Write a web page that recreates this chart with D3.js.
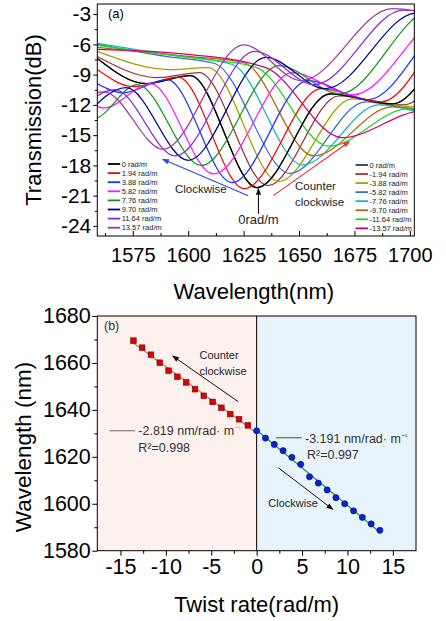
<!DOCTYPE html>
<html>
<head>
<meta charset="utf-8">
<script src="https://cdn.jsdelivr.net/npm/d3@7"></script>
<style>
body { margin: 0; background: #fff; }
svg { display: block; font-family: "Liberation Sans", Arial, sans-serif; }
</style>
</head>
<body>
<div id="chart"></div>
<script>
// ---- panel (a): transmission spectra, [wavelength nm, dB] ----
var cwLabels  = ["0 rad/m", "1.94 rad/m", "3.88 rad/m", "5.82 rad/m", "7.76 rad/m", "9.70 rad/m", "11.64 rad/m", "13.57 rad/m"];
var ccwLabels = ["0 rad/m", "-1.94 rad/m", "-3.88 rad/m", "-5.82 rad/m", "-7.76 rad/m", "-9.70 rad/m", "-11.64 rad/m", "-13.57 rad/m"];
var cwColors  = ["#000000", "#ff0000", "#1a32ff", "#ff1aff", "#14961e", "#00008c", "#8a2be2", "#9c3c9c"];
var ccwColors = ["#3c3c3c", "#9e3232", "#a3a000", "#3a6fc4", "#16b4b4", "#b06810", "#22d422", "#d0007a"];

var cw0    = [[1559,-7.4],[1581,-9.9],[1601,-9.1],[1631.1,-20.2],[1664,-10.9],[1692,-11.9],[1732,-2.5],[1780,-6]];
var cw194  = [[1559,-8.5],[1575.5,-10.2],[1595.5,-9.25],[1625.3,-20.3],[1660,-10.4],[1687,-11.7],[1727,-2.5],[1775,-6]];
var cw388  = [[1559,-9.9],[1570.5,-10.8],[1590.5,-9.5],[1619.8,-19.7],[1654,-9.6],[1681,-11.5],[1724,-2.5],[1772,-6]];
var cw582  = [[1545,-9],[1562,-12.3],[1583,-9.9],[1611.5,-18.85],[1647,-8.8],[1674.5,-11.0],[1719,-2.6],[1767,-6]];
var cw776  = [[1540,-9],[1557,-13.4],[1577,-10.0],[1605.9,-18.0],[1641,-8.1],[1668.5,-10.9],[1710,-2.6],[1758,-6]];
var cw970  = [[1552,-13.5],[1572,-10.3],[1600,-17.5],[1635,-7.3],[1662,-10.4],[1703,-2.9],[1751,-6]];
var cw1164 = [[1547,-13.5],[1567,-10.5],[1594.2,-17.06],[1630,-6.7],[1657,-10.0],[1697,-2.6],[1745,-6]];
var cw1357 = [[1542,-13.5],[1562,-10.7],[1588.7,-16.4],[1625,-6.06],[1651,-9.6],[1692,-2.45],[1740,-6]];

var ccw194  = [[1559,-7.2],[1586,-9.3],[1605,-8.8],[1636,-20.0],[1668,-11.1],[1697,-12.0],[1737,-3],[1785,-6]];
var ccw388  = [[1559,-6.7],[1592,-8.5],[1609,-8.3],[1640.9,-19.6],[1674,-11.4],[1703,-12.2],[1743,-3]];
var ccw582  = [[1559,-6.0],[1590,-7.2],[1612,-7.9],[1646,-18.8],[1680,-11.7],[1708,-12.6],[1750,-3]];
var ccw776  = [[1559,-5.9],[1590,-7.0],[1620,-8.0],[1651.7,-17.96],[1686,-12.0],[1714,-13.0],[1755,-3]];
var ccw970  = [[1559,-6.3],[1600,-7.2],[1625,-7.8],[1656.7,-17.06],[1692,-12.2],[1720,-13.2]];
var ccw1164 = [[1559,-6.1],[1600,-7.3],[1630,-8.2],[1663.5,-16.1],[1699,-12.4],[1727,-13.4]];
var ccw1357 = [[1559,-6.5],[1600,-7.0],[1635,-8.3],[1669.5,-15.25],[1706,-12.6],[1735,-13.6]];

var cwSpectra  = [cw0, cw194, cw388, cw582, cw776, cw970, cw1164, cw1357];
var ccwSpectra = [cw0, ccw194, ccw388, ccw582, ccw776, ccw970, ccw1164, ccw1357];

var wlTicks = [1575, 1600, 1625, 1650, 1675, 1700];
var wlMinor = [1562.5, 1587.5, 1612.5, 1637.5, 1662.5, 1687.5];
var dbTicks = [-3, -6, -9, -12, -15, -18, -21, -24];
var dbMinor = [-4.5, -7.5, -10.5, -13.5, -16.5, -19.5, -22.5];

// ---- panel (b): dip wavelength vs twist rate ----
var ccwRates = [-13.57,-12.61,-11.64,-10.67,-9.70,-8.73,-7.76,-6.79,-5.82,-4.85,-3.88,-2.91,-1.94,-0.97];
var ccwDips  = [1669.5,1666.5,1663.5,1660.1,1656.7,1654.1,1651.7,1648.8,1646.0,1643.4,1640.9,1638.2,1636.0,1633.4];
var cwRates  = [0,0.97,1.94,2.91,3.88,4.85,5.82,6.79,7.76,8.73,9.70,10.67,11.64,12.61,13.57];
var cwDips   = [1631.1,1628.0,1625.3,1622.6,1619.8,1616.8,1611.5,1608.8,1605.9,1602.6,1600.0,1597.0,1594.2,1591.4,1588.7];

var rateTicks = [-15, -10, -5, 0, 5, 10, 15];
var rateMinor = [-12.5, -7.5, -2.5, 2.5, 7.5, 12.5];
var dipTicks  = [1580, 1600, 1620, 1640, 1660, 1680];
var dipMinor  = [1590, 1610, 1630, 1650, 1670];

var W = 446, H = 621;
var svg = d3.select("#chart").append("svg").attr("width", W).attr("height", H);

var defs = svg.append("defs");
function arrowMarker(id, color) {
    defs.append("marker")
        .attr("id", id)
        .attr("viewBox", "0 -4 8 8")
        .attr("refX", 7).attr("refY", 0)
        .attr("markerUnits", "userSpaceOnUse")
        .attr("markerWidth", 8).attr("markerHeight", 7)
        .attr("orient", "auto")
      .append("path")
        .attr("d", "M0,-3L8,0L0,3Z")
        .attr("fill", color);
}
arrowMarker("ahBlue", "#2f44e6");
arrowMarker("ahRed", "#f03030");
arrowMarker("ahBlack", "#111");

function styleAxis(g, size) {
    g.select(".domain").remove();
    g.selectAll("line").attr("stroke", "#000");
    g.selectAll("text").attr("font-size", size).attr("fill", "#000")
        .attr("font-family", "'Liberation Sans', Arial, sans-serif");
}

// ================= panel (a) =================
var pa = {left: 97.3, right: 414.3, top: 4, bottom: 236};
var xA = d3.scaleLinear().domain([1559, 1702]).range([pa.left, pa.right]);
var yA = d3.scaleLinear().domain([-25, -2]).range([pa.bottom, pa.top]);

defs.append("clipPath").attr("id", "clipA").append("rect")
    .attr("x", pa.left).attr("y", pa.top)
    .attr("width", pa.right - pa.left).attr("height", pa.bottom - pa.top);

var lineA = d3.line()
    .x(function(d) { return xA(d[0]); })
    .y(function(d) { return yA(d[1]); })
    .curve(d3.curveMonotoneX);

var curves = svg.append("g").attr("clip-path", "url(#clipA)");
ccwSpectra.forEach(function(s, i) {
    curves.append("path").attr("d", lineA(s)).attr("fill", "none")
        .attr("stroke", ccwColors[i]).attr("stroke-width", 1.25);
});
cwSpectra.forEach(function(s, i) {
    curves.append("path").attr("d", lineA(s)).attr("fill", "none")
        .attr("stroke", cwColors[i]).attr("stroke-width", 1.25);
});

// axes
var gxA = svg.append("g").attr("transform", "translate(0," + pa.bottom + ")")
    .call(d3.axisBottom(xA).tickValues(wlTicks).tickSizeInner(-5).tickSizeOuter(0).tickPadding(12).tickFormat(String));
styleAxis(gxA, 20);
var gxAm = svg.append("g").attr("transform", "translate(0," + pa.bottom + ")")
    .call(d3.axisBottom(xA).tickValues(wlMinor).tickSizeInner(-3).tickSizeOuter(0).tickFormat(""));
styleAxis(gxAm, 0);
var gyA = svg.append("g").attr("transform", "translate(" + pa.left + ",0)")
    .call(d3.axisLeft(yA).tickValues(dbTicks).tickSize(4).tickPadding(2).tickFormat(String));
styleAxis(gyA, 21);
var gyAm = svg.append("g").attr("transform", "translate(" + pa.left + ",0)")
    .call(d3.axisLeft(yA).tickValues(dbMinor).tickSize(2.5).tickFormat(""));
styleAxis(gyAm, 0);

svg.append("rect").attr("x", pa.left).attr("y", pa.top)
    .attr("width", pa.right - pa.left).attr("height", pa.bottom - pa.top)
    .attr("fill", "none").attr("stroke", "#000").attr("stroke-width", 1);

svg.append("text").attr("transform", "translate(40.5,120) rotate(-90)")
    .attr("text-anchor", "middle").attr("font-size", 22).text("Transmission(dB)");
svg.append("text").attr("x", (pa.left + pa.right) / 2 - 2).attr("y", 299)
    .attr("text-anchor", "middle").attr("font-size", 22).text("Wavelength(nm)");

svg.append("text").attr("x", 108).attr("y", 18).attr("font-size", 13).text("(a)");

// legends
function legend(x0, y0, step, labels, colors) {
    var g = svg.append("g");
    labels.forEach(function(l, i) {
        var y = y0 + i * step;
        g.append("line").attr("x1", x0).attr("x2", x0 + 12.5).attr("y1", y).attr("y2", y)
            .attr("stroke", colors[i]).attr("stroke-width", 1.8);
        g.append("text").attr("x", x0 + 14).attr("y", y).attr("dy", "0.35em")
            .attr("font-size", 7.5).attr("fill", "#222").text(l);
    });
}
legend(107.7, 164, 9.1, cwLabels, cwColors);
legend(355.5, 165, 9.05, ccwLabels, ccwColors);

// annotations (a)
svg.append("line").attr("x1", xA(1627.1)).attr("y1", yA(-21.0))
    .attr("x2", xA(1588.5)).attr("y2", yA(-17.4))
    .attr("stroke", "#2f44e6").attr("stroke-width", 1.1).attr("marker-end", "url(#ahBlue)");
svg.append("line").attr("x1", xA(1638.4)).attr("y1", yA(-21.0))
    .attr("x2", xA(1672.7)).attr("y2", yA(-15.65))
    .attr("stroke", "#f03030").attr("stroke-width", 1.1).attr("marker-end", "url(#ahRed)");
svg.append("line").attr("x1", xA(1631.7)).attr("y1", yA(-22.8))
    .attr("x2", xA(1631.7)).attr("y2", yA(-20.3))
    .attr("stroke", "#111").attr("stroke-width", 1.1).attr("marker-end", "url(#ahBlack)");
svg.append("text").attr("x", 175).attr("y", 193).attr("font-size", 11.5).attr("fill", "#222").text("Clockwise");
svg.append("text").attr("x", 295).attr("y", 190).attr("font-size", 11.5).attr("fill", "#222").text("Counter");
svg.append("text").attr("x", 295).attr("y", 205.5).attr("font-size", 11.5).attr("fill", "#222").text("clockwise");
svg.append("text").attr("x", xA(1631.7)).attr("y", 223.5).attr("text-anchor", "middle")
    .attr("font-size", 13).attr("fill", "#222").text("0rad/m");

// ================= panel (b) =================
var pb = {left: 97.3, right: 416, top: 316, bottom: 550.7};
var xB = d3.scaleLinear().domain([-17.55, 17.55]).range([pb.left, pb.right]);
var yB = d3.scaleLinear().domain([1580, 1680]).range([pb.bottom, pb.top]);

svg.append("rect").attr("x", pb.left).attr("y", pb.top)
    .attr("width", xB(0) - pb.left).attr("height", pb.bottom - pb.top).attr("fill", "#fcf1ed");
svg.append("rect").attr("x", xB(0)).attr("y", pb.top)
    .attr("width", pb.right - xB(0)).attr("height", pb.bottom - pb.top).attr("fill", "#e8f3fb");
svg.append("line").attr("x1", xB(0)).attr("x2", xB(0)).attr("y1", pb.top).attr("y2", pb.bottom)
    .attr("stroke", "#000").attr("stroke-width", 1);

function linfit(xs, ys) {
    var mx = d3.mean(xs), my = d3.mean(ys);
    var b = d3.sum(xs, function(x, i) { return (x - mx) * (ys[i] - my); }) /
            d3.sum(xs, function(x) { return (x - mx) * (x - mx); });
    return {b: b, a: my - b * mx};
}
var fitCCW = linfit(ccwRates.concat([cwRates[0]]), ccwDips.concat([cwDips[0]]));
var fitCW = linfit(cwRates, cwDips);

svg.append("line")
    .attr("x1", xB(ccwRates[0])).attr("y1", yB(fitCCW.a + fitCCW.b * ccwRates[0]))
    .attr("x2", xB(0)).attr("y2", yB(fitCCW.a))
    .attr("stroke", "#8a8a8a").attr("stroke-width", 1.3);
svg.append("line")
    .attr("x1", xB(0)).attr("y1", yB(fitCW.a))
    .attr("x2", xB(cwRates[cwRates.length - 1])).attr("y2", yB(fitCW.a + fitCW.b * cwRates[cwRates.length - 1]))
    .attr("stroke", "#2e9e2e").attr("stroke-width", 1.3);

svg.append("g").selectAll("rect").data(ccwRates).enter().append("rect")
    .attr("x", function(d) { return xB(d) - 2.8; })
    .attr("y", function(d, i) { return yB(ccwDips[i]) - 2.8; })
    .attr("width", 5.6).attr("height", 5.6)
    .attr("fill", "#e00000").attr("stroke", "#7a0000").attr("stroke-width", 0.6);
svg.append("g").selectAll("circle").data(cwRates).enter().append("circle")
    .attr("cx", function(d) { return xB(d); })
    .attr("cy", function(d, i) { return yB(cwDips[i]); })
    .attr("r", 3.1)
    .attr("fill", "#0a22d6").attr("stroke", "#00106e").attr("stroke-width", 0.6);

var gxB = svg.append("g").attr("transform", "translate(0," + pb.bottom + ")")
    .call(d3.axisBottom(xB).tickValues(rateTicks).tickSize(5).tickPadding(3.5).tickFormat(String));
styleAxis(gxB, 21.5);
var gxBm = svg.append("g").attr("transform", "translate(0," + pb.bottom + ")")
    .call(d3.axisBottom(xB).tickValues(rateMinor).tickSize(3).tickFormat(""));
styleAxis(gxBm, 0);
var gyB = svg.append("g").attr("transform", "translate(" + pb.left + ",0)")
    .call(d3.axisLeft(yB).tickValues(dipTicks).tickSize(5).tickPadding(1.5).tickFormat(String));
styleAxis(gyB, 21.5);
var gyBm = svg.append("g").attr("transform", "translate(" + pb.left + ",0)")
    .call(d3.axisLeft(yB).tickValues(dipMinor).tickSize(3).tickFormat(""));
styleAxis(gyBm, 0);

svg.append("rect").attr("x", pb.left).attr("y", pb.top)
    .attr("width", pb.right - pb.left).attr("height", pb.bottom - pb.top)
    .attr("fill", "none").attr("stroke", "#000").attr("stroke-width", 1);

svg.append("text").attr("transform", "translate(30.5,447) rotate(-90)")
    .attr("text-anchor", "middle").attr("font-size", 22.5).text("Wavelength (nm)");
svg.append("text").attr("x", xB(0)).attr("y", 611.5)
    .attr("text-anchor", "middle").attr("font-size", 22).text("Twist rate(rad/m)");

svg.append("text").attr("x", 104).attr("y", 330).attr("font-size", 12.5).attr("fill", "#333").text("(b)");

// annotations (b)
svg.append("line").attr("x1", 238.3).attr("y1", 401.7).attr("x2", 172.7).attr("y2", 356)
    .attr("stroke", "#111").attr("stroke-width", 1).attr("marker-end", "url(#ahBlack)");
svg.append("text").attr("x", 199.5).attr("y", 358.5).attr("font-size", 11).attr("fill", "#222").text("Counter");
svg.append("text").attr("x", 199.5).attr("y", 374.5).attr("font-size", 11).attr("fill", "#222").text("clockwise");

svg.append("line").attr("x1", 278.3).attr("y1", 467.7).attr("x2", 332.7).attr("y2", 509.3)
    .attr("stroke", "#111").attr("stroke-width", 1).attr("marker-end", "url(#ahBlack)");
svg.append("text").attr("x", 268.3).attr("y", 506.5).attr("font-size", 11).attr("fill", "#222").text("Clockwise");

svg.append("line").attr("x1", 109.3).attr("x2", 135).attr("y1", 430.7).attr("y2", 430.7)
    .attr("stroke", "#8a8a8a").attr("stroke-width", 1.3);
var t1 = svg.append("text").attr("x", 138.3).attr("y", 435).attr("font-size", 12.5).attr("fill", "#333");
t1.append("tspan").text("-2.819 nm/rad\u00b7 m");
t1.append("tspan").attr("dy", -5).attr("font-size", 7).attr("fill", "#999").text("\u2212\u00b9");
svg.append("text").attr("x", 138.3).attr("y", 451.5).attr("font-size", 12.5).attr("fill", "#333").text("R\u00b2=0.998");

svg.append("line").attr("x1", 276).attr("x2", 301.7).attr("y1", 437.7).attr("y2", 437.7)
    .attr("stroke", "#2e9e2e").attr("stroke-width", 1.3);
var t2 = svg.append("text").attr("x", 305).attr("y", 442.5).attr("font-size", 12.5).attr("fill", "#333");
t2.append("tspan").text("-3.191 nm/rad\u00b7 m");
t2.append("tspan").attr("dy", -5).attr("font-size", 7).text("\u2212\u00b9");
svg.append("text").attr("x", 307).attr("y", 459).attr("font-size", 12.5).attr("fill", "#333").text("R\u00b2=0.997");
</script>
</body>
</html>
